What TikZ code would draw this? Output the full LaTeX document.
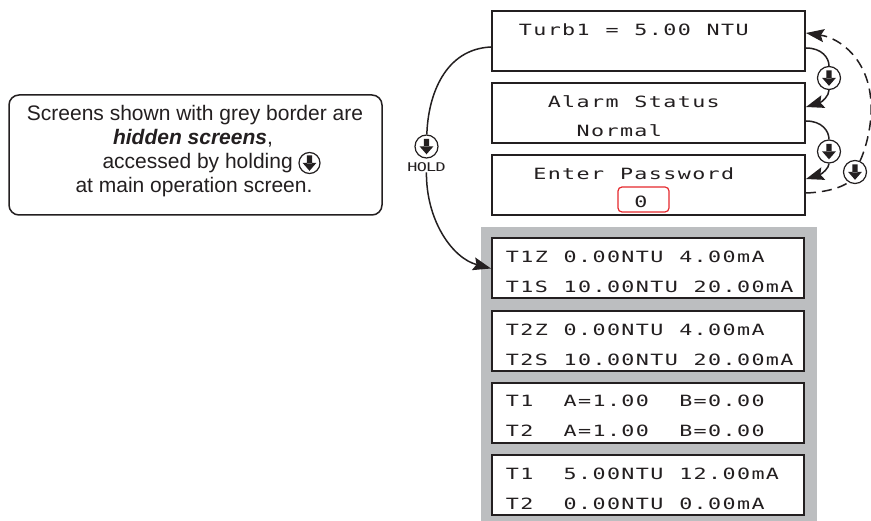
\documentclass[tikz,border=0pt]{standalone}
\usepackage{fontspec}
\setmainfont{Liberation Sans}
\newfontfamily\lcdfont[FakeStretch=1.4]{DejaVu Sans Mono}
\usetikzlibrary{arrows.meta,calc}
\definecolor{inkc}{RGB}{35,31,32}
\definecolor{greyc}{RGB}{188,190,192}
\definecolor{redc}{RGB}{230,40,45}
\ExplSyntaxOn
\NewDocumentCommand\lcdtext{O{14.45pt}m}
  {
    \str_map_inline:nn {#2}
      {
        \str_if_eq:nnTF {##1} {_}
          { \makebox[#1]{} }
          { \makebox[#1][c]{##1} }
      }
  }
\ExplSyntaxOff
\tikzset{
  scr/.style={draw=inkc, line width=2pt, fill=white, minimum height=60pt, inner sep=0pt},
  lcd/.style={font=\lcdfont\fontsize{15.5}{18}\selectfont, text=inkc, inner sep=0pt, anchor=base west},
  holdlbl/.style={font=\lcdfont\fontsize{12}{14}\selectfont, text=inkc, inner sep=0pt, anchor=base},
  notetxt/.style={font=\fontsize{21}{24}\selectfont, text=inkc, inner sep=0pt},
  conn/.style={draw=inkc, line width=1.5pt},
  tip/.style={-{Stealth[length=18pt,width=13pt,inset=3pt]}},
  icon/.style={circle, draw=inkc, fill=white, line width=1.2pt, minimum size=#1*2pt, inner sep=0pt,
    path picture={\fill[inkc, shift={(path picture bounding box.center)}, scale=#1/11.5]
      (-2.6,-7.5) rectangle (2.6,0.5) (-6.8,0) -- (6.8,0) -- (0,7.8) -- cycle;}},
}
\begin{document}
\begin{tikzpicture}[x=1pt,y=-1pt]
\useasboundingbox (0,0) rectangle (871,521);
\fill[white] (0,0) rectangle (871,521);

% grey panel of hidden screens
\node[fill=greyc, minimum width=336pt, minimum height=294pt, inner sep=0pt] (grey) at (649,374) {};

% main screens
\node[scr, minimum width=313pt] (b1) at (648.5,41) {};
\node[scr, minimum width=313pt] (b2) at (648.5,113) {};
\node[scr, minimum width=313pt] (b3) at (648.5,185) {};
\node[lcd] (t1) at (518,36) {\lcdtext{Turb1_=_5.00_NTU}};
\node[lcd] (t2a) at (546.9,108) {\lcdtext{Alarm_Status}};
\node[lcd] (t2b) at (575.8,137) {\lcdtext{Normal}};
\node[lcd] (t3a) at (532.45,180) {\lcdtext{Enter_Password}};
\node[draw=redc, line width=1.2pt, rounded corners=4pt, minimum width=51pt, minimum height=25pt, inner sep=0pt] (pw) at (643.5,199.5) {};
\node[lcd] (t3b) at (633.6,208) {\lcdtext{0}};

% hidden screens
\node[scr, minimum width=312pt] (la) at (648,268.5) {};
\node[scr, minimum width=312pt] (lb) at (648,341) {};
\node[scr, minimum width=312pt] (lc) at (648,413) {};
\node[scr, minimum width=312pt] (ld) at (648,485) {};
\node[lcd] (la1) at (505,263) {\lcdtext{T1Z_0.00NTU_4.00mA}};
\node[lcd] (la2) at (505,293) {\lcdtext{T1S_10.00NTU_20.00mA}};
\node[lcd] (lb1) at (505,336) {\lcdtext{T2Z_0.00NTU_4.00mA}};
\node[lcd] (lb2) at (505,366) {\lcdtext{T2S_10.00NTU_20.00mA}};
\node[lcd] (lc1) at (505,407) {\lcdtext{T1__A=1.00__B=0.00}};
\node[lcd] (lc2) at (505,437) {\lcdtext{T2__A=1.00__B=0.00}};
\node[lcd] (ld1) at (505,479) {\lcdtext{T1__5.00NTU_12.00mA}};
\node[lcd] (ld2) at (505,509) {\lcdtext{T2__0.00NTU_0.00mA}};

% note box
\node[draw=inkc, line width=1.5pt, rounded corners=10pt, minimum width=373pt, minimum height=120pt, inner sep=0pt] (note) at (195.5,155) {};
\node[notetxt, anchor=base] (n1) at (195,121) {Screens shown with grey border are};
\node[notetxt, anchor=base] (n2) at (193,145) {\textbf{\textit{hidden screens}},};
\node[notetxt, anchor=base east] (n3) at (293,169) {accessed by holding};
\node[icon=10.5] (n3i) at (309.5,163) {};
\node[notetxt, anchor=base] (n4) at (194,193) {at main operation screen.};

% icons
\node[icon=11.5] (hold) at (426.5,146.5) {};
\node[holdlbl] (hl) at (426.5,172) {\lcdtext[9.4pt]{HOLD}};
\node[icon=11.5] (i1) at (829,78) {};
\node[icon=11.5] (i2) at (829,151.5) {};
\node[icon=11.5] (i3) at (855,172) {};

% connectors
\draw[conn] ([yshift=-6pt]b1.west) .. controls (445,49) and (428,95) .. (hold);
\draw[conn, tip] (hl) .. controls (426,220) and (452,258) .. (la.west);
\draw[conn] ([yshift=-7pt]b1.east) .. controls (822,48) and (829,58) .. (i1);
\draw[conn, tip] (i1) .. controls (829,96) and (822,102) .. ([yshift=6pt]b2.east);
\draw[conn] ([yshift=-8pt]b2.east) .. controls (822,121) and (829,131) .. (i2);
\draw[conn, tip] (i2) .. controls (829,168) and (822,174) .. ([yshift=6pt]b3.east);
\draw[conn, dash pattern=on 10pt off 6pt] ([yshift=-8pt]b3.east) .. controls (835,192) and (848,183) .. (i3);
\draw[conn, tip, dash pattern=on 10pt off 6pt] (i3) .. controls (866,148) and (872,125) .. (871,105) .. controls (870,60) and (840,38) .. ([yshift=8pt]b1.east);
\end{tikzpicture}
\end{document}
